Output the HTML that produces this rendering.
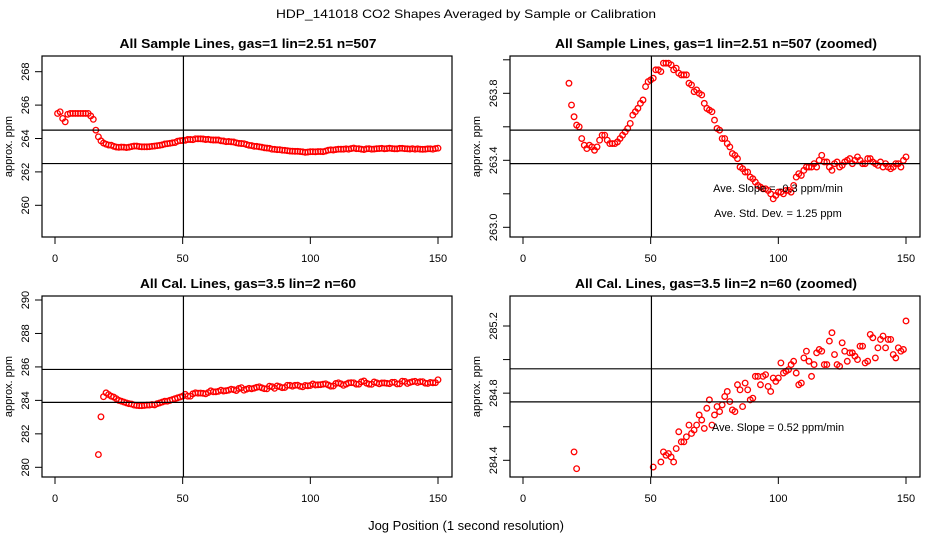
<!DOCTYPE html>
<html><head><meta charset="utf-8"><style>
html,body{margin:0;padding:0;background:#fff;overflow:hidden;width:936px;height:540px}
svg{display:block}
svg text{font-family:"Liberation Sans",sans-serif;fill:#000}
</style></head><body>
<svg id="chart" width="936" height="540" viewBox="0 0 936 540" xmlns="http://www.w3.org/2000/svg">
<rect width="936" height="540" fill="#fff"/>
<text x="466" y="18" font-size="12" text-anchor="middle" textLength="380" lengthAdjust="spacingAndGlyphs">HDP_141018  CO2 Shapes Averaged by Sample or Calibration</text>
<text x="466" y="530" font-size="13" text-anchor="middle">Jog Position (1 second resolution)</text>
</svg>
<script>
// Sample data (x = 1..150)
const sampleX = Array.from({length:150},(_, i)=>i+1);
const sampleY = [265.5,265.6,265.2,265.0,265.45,265.5,265.5,265.5,265.5,265.5,265.5,265.5,265.5,265.35,265.15,264.5,264.1,
263.86,263.73,263.66,263.61,263.60,263.53,263.49,263.47,263.49,263.48,263.46,263.48,263.52,263.55,263.55,263.52,263.50,263.50,263.50,263.51,263.53,263.55,263.57,263.59,263.62,263.67,263.69,263.71,263.74,263.76,263.84,263.87,263.88,
263.89,263.94,263.94,263.93,263.98,263.98,263.98,263.97,263.94,263.95,263.92,263.91,263.91,263.91,263.86,263.85,263.81,263.82,263.80,263.79,
263.74,263.71,263.70,263.69,263.64,263.59,263.58,263.53,263.53,263.50,263.48,263.44,263.43,263.41,263.36,263.35,263.33,263.33,263.30,263.29,
263.27,263.25,263.24,263.23,263.23,263.22,263.20,263.17,263.19,263.21,263.21,263.20,263.22,263.22,263.21,263.25,263.30,263.32,263.31,263.34,
263.36,263.36,263.36,263.38,263.36,263.40,263.43,263.39,263.39,263.36,263.34,263.38,263.39,263.36,263.37,263.39,263.40,263.41,263.38,263.40,
263.42,263.40,263.38,263.38,263.41,263.41,263.39,263.38,263.37,263.39,263.36,263.38,263.36,263.35,263.36,263.38,263.38,263.36,263.40,263.42];
// Calibration data (x = 17..150)
const calX = Array.from({length:134},(_, i)=>i+17);
const calY = [280.76,283.02,284.22,284.45,284.35,284.25,284.20,284.10,284.00,283.95,283.90,283.85,283.80,283.78,283.72,283.70,283.68,283.68,283.70,283.72,
283.72,283.75,283.73,283.80,283.85,283.90,283.95,283.95,284.00,284.05,284.10,284.15,284.20,284.25,
284.36,284.25,284.25,284.39,284.45,284.43,284.44,284.42,284.39,284.47,284.57,284.51,284.51,284.54,284.61,284.56,284.58,284.61,284.67,284.64,
284.59,284.71,284.76,284.61,284.67,284.72,284.69,284.73,284.78,284.81,284.75,284.70,284.69,284.85,284.82,284.72,284.86,284.82,284.76,284.77,
284.90,284.90,284.85,284.90,284.91,284.84,284.81,284.89,284.87,284.89,284.98,284.92,284.93,284.94,284.97,284.99,284.92,284.85,284.86,285.01,
285.05,284.99,284.90,284.97,285.04,285.06,285.05,284.97,284.97,285.11,285.16,285.03,284.97,284.96,285.10,285.05,284.99,285.04,285.04,285.02,
285.00,285.08,285.08,284.98,284.99,285.15,285.13,285.01,285.07,285.12,285.14,285.07,285.12,285.12,285.03,285.01,285.07,285.05,285.06,285.23];
const xTicks = [0,50,100,150];
const p1YTicks = [260,262,264,266,268];
const p2YTicks = [263.0,263.2,263.4,263.6,263.8,264.0];
const p2YLabels = ["263.0","","263.4","","263.8",""];
const p3YTicks = [280,282,284,286,288,290];
const p4YTicks = [284.4,284.6,284.8,285.0,285.2];
const p4YLabels = ["284.4","","284.8","","285.2"];
const refLinesP1 = [264.5,262.5];
const refLinesP2 = [263.58,263.38];
const refLinesP3 = [285.85,283.88];
const refLinesP4 = [284.945,284.748];
const vLineX = 50.3;

const NS="http://www.w3.org/2000/svg";
const svg=document.getElementById('chart');
function mk(tag,attrs,parent){const e=document.createElementNS(NS,tag);for(const k in attrs)e.setAttribute(k,attrs[k]);(parent||svg).appendChild(e);return e;}

function panel(o){
  const g=mk('g',{});
  
  
  const X=v=>o.x0+(v-0)*(o.x1-o.x0)/150;
  const Y=v=>o.yA+(v-o.vA)*(o.yB-o.yA)/(o.vB-o.vA);
  const t=mk('text',{x:o.tc,y:o.top-8,'font-size':13,'font-weight':'bold','text-anchor':'middle',textLength:o.tw,lengthAdjust:'spacingAndGlyphs'},g);
  t.textContent=o.title;
  
  
  const cid='clip'+o.name;
  const cp=mk('clipPath',{id:cid},g);
  mk('rect',{x:o.bl,y:o.top,width:o.br-o.bl,height:o.bot-o.top},cp);
  const pg=mk('g',{'clip-path':'url(#'+cid+')'},g);
  o.xs.forEach((xv,i)=>{
    const px=X(xv), py=Y(o.ys[i]);
    if(py<o.top-3||py>o.bot+3||px<o.bl-3||px>o.br+3) return;
    const c=mk('circle',{cx:px,cy:py,r:2.8,fill:'none',stroke:'#ff0000','stroke-width':1.3},pg);
    
    
  });
  o.refs.forEach(v=>{
    const l=mk('line',{x1:o.bl,x2:o.br,y1:Y(v),y2:Y(v),stroke:'#000','stroke-width':1.2},g);
    
    
  });
  const vl=mk('line',{x1:X(vLineX),x2:X(vLineX),y1:o.top,y2:o.bot,stroke:'#000','stroke-width':1.2},g);
  
  
  const box=mk('rect',{x:o.bl,y:o.top,width:o.br-o.bl,height:o.bot-o.top,fill:'none',stroke:'#000','stroke-width':1.2},g);
  
  
  xTicks.forEach(v=>{
    mk('line',{x1:X(v),x2:X(v),y1:o.bot,y2:o.bot+7,stroke:'#000'},g);
    const tx=mk('text',{x:X(v),y:o.bot+25,'font-size':11,'text-anchor':'middle'},g);
    tx.textContent=v;
    
    
  });
  o.yt.forEach((v,i)=>{
    const yy=Y(v);
    mk('line',{x1:o.bl-7,x2:o.bl,y1:yy,y2:yy,stroke:'#000'},g);
    const lab=o.yl?o.yl[i]:String(v);
    if(lab){
      const ty=mk('text',{x:o.bl-13,y:yy,'font-size':11,'text-anchor':'middle',transform:'rotate(-90 '+(o.bl-13)+' '+yy+')'},g);
      ty.textContent=lab;
      
      
    }
  });
  const cy=(o.top+o.bot)/2;
  const yt=mk('text',{x:o.bl-30,y:cy,'font-size':11,'text-anchor':'middle',transform:'rotate(-90 '+(o.bl-30)+' '+cy+')'},g);
  yt.textContent='approx. ppm';
  
  
  (o.notes||[]).forEach(n=>{
    const nt=mk('text',{x:n[0],y:n[1],'font-size':11,'text-anchor':'middle'},g);
    nt.textContent=n[2];
    
    
  });
}

panel({name:'panel-sample',title:'All Sample Lines, gas=1 lin=2.51 n=507',tc:248,tw:257,bl:42,br:452,top:56,bot:237,x0:55,x1:438,
  vA:268,yA:71.7,vB:260,yB:205.3,xs:sampleX,ys:sampleY,refs:refLinesP1,yt:p1YTicks});
panel({name:'panel-sample-zoomed',title:'All Sample Lines, gas=1 lin=2.51 n=507 (zoomed)',tc:716,tw:322,bl:510,br:920,top:56,bot:237,x0:523,x1:906,
  vA:263.8,yA:93.3,vB:263.0,yB:227.3,xs:sampleX.slice(17),ys:sampleY.slice(17),refs:refLinesP2,yt:p2YTicks,yl:p2YLabels,
  notes:[[778,192,'Ave. Slope =  -0.3  ppm/min'],[778,217,'Ave. Std. Dev. =  1.25  ppm']]});
panel({name:'panel-cal',title:'All Cal. Lines, gas=3.5 lin=2 n=60',tc:248,tw:216,bl:42,br:452,top:296,bot:477,x0:55,x1:438,
  vA:290,yA:300,vB:280,yB:467.3,xs:calX,ys:calY,refs:refLinesP3,yt:p3YTicks});
panel({name:'panel-cal-zoomed',title:'All Cal. Lines, gas=3.5 lin=2 n=60 (zoomed)',tc:716,tw:282,bl:510,br:920,top:296,bot:477,x0:523,x1:906,
  vA:285.2,yA:326,vB:284.4,yB:460.3,xs:calX,ys:calY,refs:refLinesP4,yt:p4YTicks,yl:p4YLabels,
  notes:[[778,431,'Ave. Slope =  0.52  ppm/min']]});
</script>
</body></html>
